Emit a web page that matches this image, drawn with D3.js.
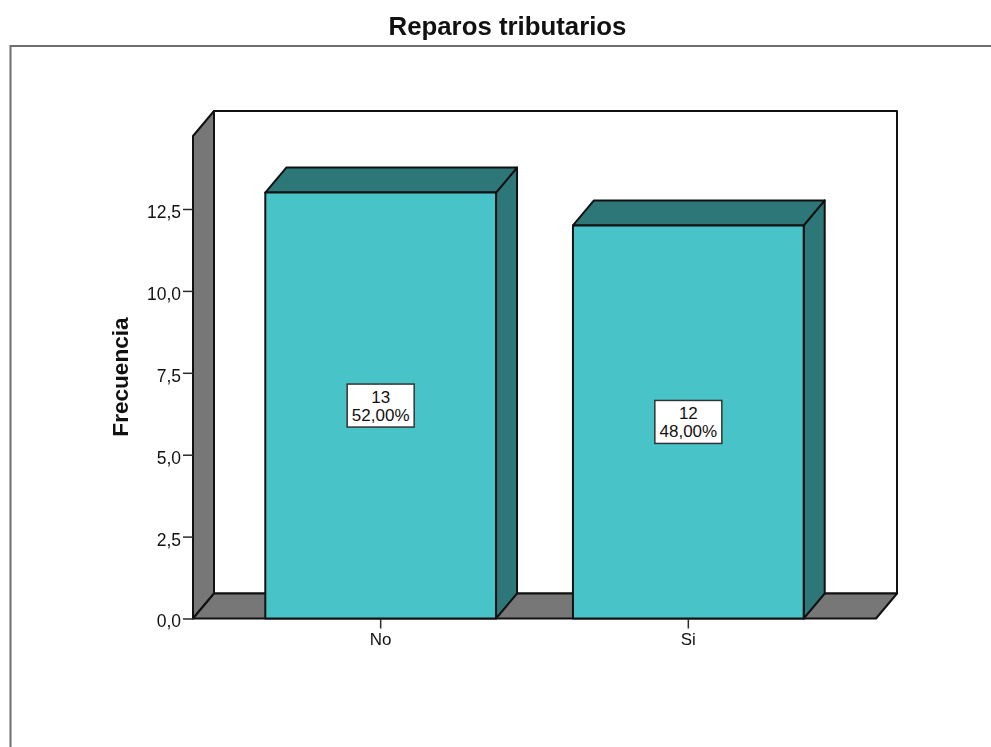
<!DOCTYPE html>
<html>
<head>
<meta charset="utf-8">
<script src="https://cdn.jsdelivr.net/npm/d3@7"></script>
<style>
html,body{margin:0;padding:0;background:#fff;overflow:hidden}
svg{display:block;filter:blur(0.45px)}
text{font-family:"Liberation Sans",Arial,sans-serif;fill:#111}
</style>
</head>
<body>
<svg id="c" width="991" height="747"></svg>
<script>
const titleText = "Reparos tributarios";
const yTitle = "Frecuencia";
const categories = ["No", "Si"];
const counts = [13, 12];
const percents = ["52,00%", "48,00%"];
const yTicks = [0, 2.5, 5, 7.5, 10, 12.5];

const W = 991, H = 747;
const left = 193, right = 876, base = 618.5, top3d = 136;
const depthX = 21, depthY = 25;
const C = {wall:"#777777", bar:"#48C3C8", dark:"#2E7779", line:"#111111", frame:"#6e6e6e", tick:"#2a2a2a"};
const FONT = '"Liberation Sans",Arial,sans-serif';

const svg = d3.select("#c");
const y = d3.scaleLinear().domain([0, 12.5]).range([base, 209]);
const x = d3.scaleBand().domain(categories).range([left, right]).paddingInner(0.25).paddingOuter(0.235);
const fmt = d3.formatLocale({decimal:",", thousands:".", grouping:[3], currency:["",""]}).format(".1f");
const poly = pts => pts.map(p => p.join(",")).join(" ");

// outer frame (open on the right and bottom of the crop)
svg.append("path").attr("d", `M${W},46H10.5V${H}`).attr("fill","none").attr("stroke",C.frame).attr("stroke-width",2);

// title and axis title
svg.append("text").attr("x",507.5).attr("y",35).attr("text-anchor","middle")
  .attr("font-size",25.8).attr("font-weight","bold").text(titleText);
svg.append("text").attr("transform","translate(128,377) rotate(-90)").attr("text-anchor","middle")
  .attr("font-size",22.6).attr("font-weight","bold").text(yTitle);

const g3d = svg.append("g").attr("stroke",C.line).attr("stroke-width",2).attr("stroke-linejoin","round");
// back wall
g3d.append("rect").attr("x",left+depthX).attr("y",top3d-depthY)
  .attr("width",right-left).attr("height",base-top3d).attr("fill","#fff");
// left wall
g3d.append("polygon").attr("fill",C.wall).attr("points",poly([
  [left,base],[left,top3d],[left+depthX,top3d-depthY],[left+depthX,base-depthY]]));
// floor
g3d.append("polygon").attr("fill",C.wall).attr("points",poly([
  [left,base],[right,base],[right+depthX,base-depthY],[left+depthX,base-depthY]]));

// bars
const bars = svg.append("g").selectAll("g").data(categories).join("g")
  .attr("stroke",C.line).attr("stroke-width",2).attr("stroke-linejoin","round");
bars.append("polygon").attr("fill",C.dark).attr("points",(d,i)=>{
  const x1=x(d)+x.bandwidth(), t=y(counts[i]);
  return poly([[x1,t],[x1+depthX,t-depthY],[x1+depthX,base-depthY],[x1,base]]);
});
bars.append("polygon").attr("fill",C.dark).attr("points",(d,i)=>{
  const x0=x(d), x1=x0+x.bandwidth(), t=y(counts[i]);
  return poly([[x0,t],[x0+depthX,t-depthY],[x1+depthX,t-depthY],[x1,t]]);
});
bars.append("rect").attr("fill",C.bar)
  .attr("x",d=>x(d)).attr("width",x.bandwidth())
  .attr("y",(d,i)=>y(counts[i])).attr("height",(d,i)=>base-y(counts[i]));

// value labels
const labels = svg.append("g").selectAll("g").data(categories).join("g")
  .attr("transform",(d,i)=>`translate(${x(d)+x.bandwidth()/2},${(y(counts[i])+base)/2})`);
labels.append("rect").attr("x",-33.5).attr("y",-21.5).attr("width",67).attr("height",43)
  .attr("fill","#fff").attr("stroke","#333").attr("stroke-width",1.5);
labels.append("text").attr("text-anchor","middle").attr("y",-2.5).attr("font-size",17).attr("fill","#222")
  .text((d,i)=>counts[i]);
labels.append("text").attr("text-anchor","middle").attr("y",15).attr("font-size",17).attr("fill","#222")
  .text((d,i)=>percents[i]);

// axes
const yAxis = svg.append("g").attr("transform",`translate(${left},0)`)
  .call(d3.axisLeft(y).tickValues(yTicks).tickFormat(fmt).tickSize(10).tickPadding(2));
yAxis.select(".domain").remove();
yAxis.selectAll("line").attr("stroke",C.tick).attr("stroke-width",1.5);
yAxis.selectAll("text").attr("font-size",17.5).attr("fill","#333").attr("font-family",FONT).attr("dy","0.48em");

const xAxis = svg.append("g").attr("transform",`translate(0,${base})`)
  .call(d3.axisBottom(x).tickSize(10).tickPadding(4));
xAxis.select(".domain").remove();
xAxis.selectAll("line").attr("stroke",C.tick).attr("stroke-width",1.5);
xAxis.selectAll("text").attr("font-size",17).attr("fill","#333").attr("font-family",FONT);
</script>
</body>
</html>
